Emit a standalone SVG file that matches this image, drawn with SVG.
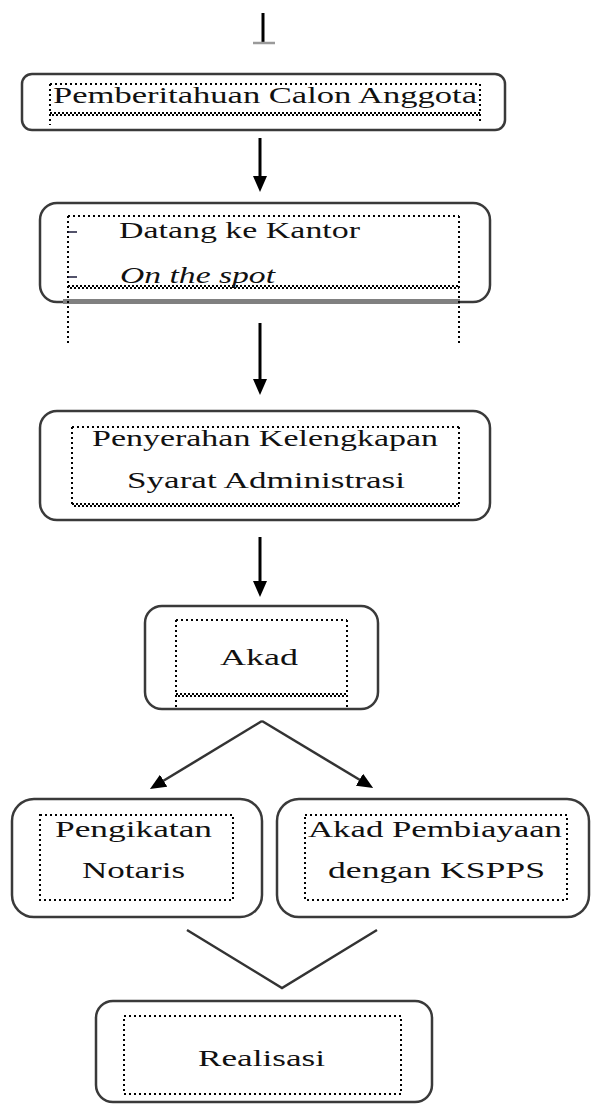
<svg xmlns="http://www.w3.org/2000/svg" width="591" height="1105" viewBox="0 0 591 1105">
  <style>
    .box { fill: #ffffff; stroke: #3a3a3a; stroke-width: 2.5; }
    .frame { fill: none; stroke: #000; stroke-width: 2; stroke-dasharray: 2 3; }
    .chk { fill: none; stroke: #000; stroke-width: 2; stroke-dasharray: 2 2; }
    .chk2 { fill: none; stroke: #000; stroke-width: 2; stroke-dasharray: 2 2; stroke-dashoffset: 2; }
    .t { font-family: "Liberation Serif", "Times New Roman", serif; font-size: 24px; fill: #111; }
    .it { font-style: italic; }
    .conn { stroke: #000; stroke-width: 3; fill: none; }
    .diag { stroke: #333; stroke-width: 2.5; fill: none; }
  </style>
  <defs>
    <marker id="head" viewBox="0 0 16 14" refX="6" refY="7" markerWidth="16" markerHeight="14" markerUnits="userSpaceOnUse" orient="auto">
      <path d="M0,0 L16,7 L0,14 z" fill="#000"/>
    </marker>
  </defs>

  <!-- connectors -->
  <g id="connectors">
    <line class="conn" x1="263" y1="13" x2="263" y2="43"/>
    <line x1="253" y1="43" x2="275" y2="43" stroke="#9a9a9a" stroke-width="2.5"/>
    <line class="conn" x1="260" y1="138" x2="260" y2="182" marker-end="url(#head)"/>
    <line class="conn" x1="260" y1="323" x2="260" y2="385" marker-end="url(#head)"/>
    <line class="conn" x1="260" y1="537" x2="260" y2="587" marker-end="url(#head)"/>
    <line class="diag" x1="262" y1="721" x2="158.5" y2="783.8" marker-end="url(#head)"/>
    <line class="diag" x1="262" y1="721" x2="364.6" y2="782.8" marker-end="url(#head)"/>
    <polyline class="diag" points="187,930 282,988 377,930"/>
  </g>

  <!-- Pemberitahuan Calon Anggota -->
  <g id="node-pemberitahuan">
    <rect class="box" x="22" y="74" width="483" height="56" rx="10"/>
    <line class="frame" x1="50" y1="84" x2="480" y2="84"/>
    <line class="frame" x1="50" y1="84" x2="50" y2="125"/>
    <line class="frame" x1="480" y1="84" x2="480" y2="123"/>
    <line class="chk" x1="50" y1="113" x2="480" y2="113"/>
    <line class="chk2" x1="50" y1="115" x2="480" y2="115"/>
    <text class="t" x="53" y="103" textLength="424" lengthAdjust="spacingAndGlyphs">Pemberitahuan Calon Anggota</text>
  </g>

  <!-- Datang ke Kantor / On the spot -->
  <g id="node-datang">
    <rect class="box" x="40" y="203" width="450" height="99" rx="17"/>
    <rect x="63" y="299" width="397" height="5" fill="#808080"/>
    <line class="frame" x1="68" y1="216" x2="459" y2="216"/>
    <line class="frame" x1="68" y1="216" x2="68" y2="344"/>
    <line class="frame" x1="459" y1="216" x2="459" y2="344"/>
    <line class="chk" x1="68" y1="286" x2="459" y2="286"/>
    <line class="chk2" x1="68" y1="288" x2="459" y2="288"/>
    <line x1="68" y1="232" x2="77" y2="232" stroke="#1a1a3a" stroke-width="1.5"/>
    <line x1="68" y1="277" x2="77" y2="277" stroke="#1a1a3a" stroke-width="1.5"/>
    <text class="t" x="119" y="238" textLength="241" lengthAdjust="spacingAndGlyphs">Datang ke Kantor</text>
    <text class="t it" x="120" y="283" textLength="155" lengthAdjust="spacingAndGlyphs">On the spot</text>
  </g>

  <!-- Penyerahan Kelengkapan Syarat Administrasi -->
  <g id="node-penyerahan">
    <rect class="box" x="40" y="411" width="450" height="109" rx="17"/>
    <line class="frame" x1="72" y1="427" x2="459" y2="427"/>
    <line class="frame" x1="72" y1="427" x2="72" y2="507"/>
    <line class="frame" x1="459" y1="427" x2="459" y2="506"/>
    <line class="chk" x1="72" y1="504" x2="459" y2="504"/>
    <line class="chk2" x1="72" y1="506" x2="459" y2="506"/>
    <text class="t" x="92" y="446" textLength="346" lengthAdjust="spacingAndGlyphs">Penyerahan Kelengkapan</text>
    <text class="t" x="127" y="488" textLength="278" lengthAdjust="spacingAndGlyphs">Syarat  Administrasi</text>
  </g>

  <!-- Akad -->
  <g id="node-akad">
    <rect class="box" x="145" y="606" width="233" height="103" rx="17"/>
    <line class="frame" x1="176" y1="620" x2="347" y2="620"/>
    <line class="frame" x1="176" y1="620" x2="176" y2="708"/>
    <line class="frame" x1="347" y1="620" x2="347" y2="708"/>
    <line class="chk" x1="176" y1="694" x2="347" y2="694"/>
    <line class="chk2" x1="176" y1="696" x2="347" y2="696"/>
    <text class="t" x="220" y="665" textLength="78" lengthAdjust="spacingAndGlyphs">Akad</text>
  </g>

  <!-- Pengikatan Notaris -->
  <g id="node-pengikatan">
    <rect class="box" x="12" y="799" width="250" height="118" rx="22"/>
    <rect class="frame" x="40" y="815" width="193" height="85"/>
    <text class="t" x="55" y="837" textLength="157" lengthAdjust="spacingAndGlyphs">Pengikatan</text>
    <text class="t" x="82" y="878" textLength="103" lengthAdjust="spacingAndGlyphs">Notaris</text>
  </g>

  <!-- Akad Pembiayaan dengan KSPPS -->
  <g id="node-pembiayaan">
    <rect class="box" x="277" y="799" width="312" height="118" rx="22"/>
    <rect class="frame" x="305" y="815" width="262" height="85"/>
    <text class="t" x="308" y="837" textLength="254" lengthAdjust="spacingAndGlyphs">Akad Pembiayaan</text>
    <text class="t" x="328" y="878" textLength="217" lengthAdjust="spacingAndGlyphs">dengan KSPPS</text>
  </g>

  <!-- Realisasi -->
  <g id="node-realisasi">
    <rect class="box" x="96" y="1001" width="336" height="101" rx="17"/>
    <rect class="frame" x="124" y="1016" width="277" height="78"/>
    <text class="t" x="198" y="1066" textLength="127" lengthAdjust="spacingAndGlyphs">Realisasi</text>
  </g>
</svg>
